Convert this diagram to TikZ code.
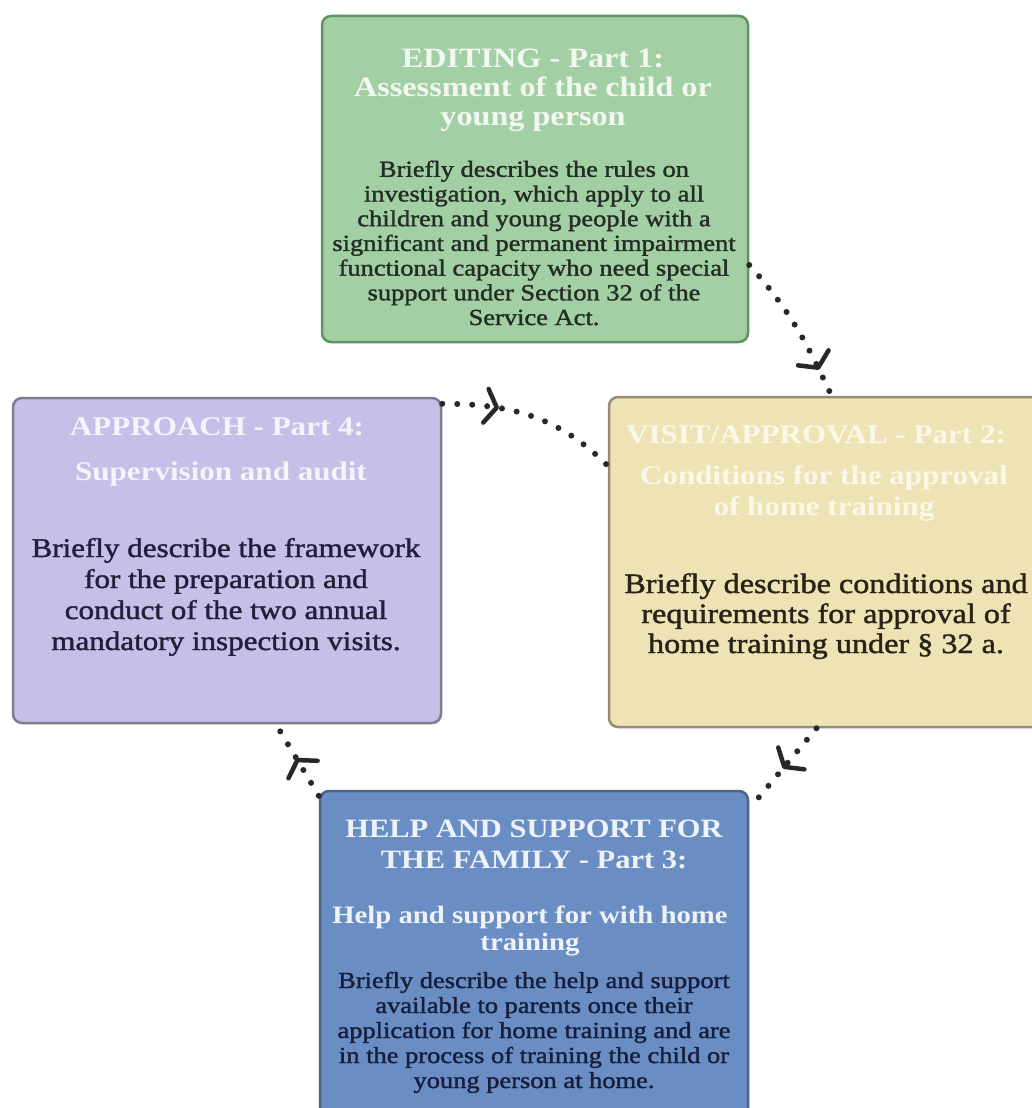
\documentclass[tikz,border=0pt]{standalone}
\usepackage{fontspec}
\setmainfont{Liberation Serif}[FakeStretch=1.15]
\newfontfamily\bodyfont{Liberation Serif}[FakeStretch=1.15, FakeBold=1.5]
\usetikzlibrary{decorations.markings}

\definecolor{grfill}{RGB}{163,207,165}
\definecolor{grline}{RGB}{96,148,100}
\definecolor{grtitle}{RGB}{242,248,240}
\definecolor{grbody}{RGB}{35,45,35}
\definecolor{yefill}{RGB}{238,227,180}
\definecolor{yeline}{RGB}{150,140,118}
\definecolor{yetitle}{RGB}{252,248,232}
\definecolor{yebody}{RGB}{40,35,22}
\definecolor{pufill}{RGB}{200,191,232}
\definecolor{puline}{RGB}{128,124,142}
\definecolor{putitle}{RGB}{246,243,252}
\definecolor{pubody}{RGB}{35,30,58}
\definecolor{blfill}{RGB}{106,142,196}
\definecolor{blline}{RGB}{78,98,135}
\definecolor{bltitle}{RGB}{238,243,250}
\definecolor{blbody}{RGB}{22,30,60}
\definecolor{dotc}{RGB}{40,40,40}

\tikzset{
  panel/.style={draw, line width=2.5pt, rounded corners=9pt, inner sep=0pt},
  ttl/.style 2 args={anchor=base, align=center, inner sep=0pt, font=\fontsize{#1}{#2}\selectfont\bfseries},
  bdy/.style 2 args={anchor=base, align=center, inner sep=0pt, font=\bodyfont\fontsize{#1}{#2}\selectfont},
  link/.style={draw=dotc, line width=6pt, line cap=round, dash pattern=on 0pt off 15pt,
    postaction=decorate,
    decoration={markings, mark=at position #1 with {\draw[solid, line width=4.5pt, line cap=round, line join=round, draw=dotc] (-11,-17) -- (0,0) -- (-11,17);}}}
}

\begin{document}
\begin{tikzpicture}[x=1pt, y=-1pt]
\useasboundingbox (0,0) rectangle (1031,1108);
\fill[white] (0,0) rectangle (1031,1108);

% boxes
\node[panel, fill=grfill, draw=grline, minimum width=426pt, minimum height=326pt] (green) at (535,179) {};
\node[panel, fill=yefill, draw=yeline, minimum width=433pt, minimum height=330pt] (yellow) at (825.5,562) {};
\node[panel, fill=pufill, draw=puline, minimum width=428pt, minimum height=325pt] (purple) at (227,560.5) {};
\node[panel, fill=blfill, draw=blline, minimum width=428pt, minimum height=334pt] (blue) at (534,958) {};

% green texts (anchor = baseline of last line)
\node[ttl={28}{29}, text=grtitle] (gt) at (533,125) {EDITING - Part 1:\\Assessment of the child or\\young person};
\node[bdy={23}{24.7}, text=grbody] (gb) at (534,325) {Briefly describes the rules on\\investigation, which apply to all\\children and young people with a\\significant and permanent impairment\\functional capacity who need special\\support under Section 32 of the\\Service Act.};

% yellow texts
\node[ttl={27}{31}, text=yetitle] (yt) at (816,443) {VISIT/APPROVAL - Part 2:};
\node[ttl={27}{31}, text=yetitle] (ys) at (824,515) {Conditions for the approval\\of home training};
\node[bdy={28}{30}, text=yebody] (yb) at (826,653) {Briefly describe conditions and\\requirements for approval of\\home training under § 32 a.};

% purple texts
\node[ttl={27}{31}, text=putitle] (pt) at (217,435) {APPROACH - Part 4:};
\node[ttl={27}{31}, text=putitle] (ps) at (221,480) {Supervision and audit};
\node[bdy={27}{31}, text=pubody] (pb) at (226,650) {Briefly describe the framework\\for the preparation and\\conduct of the two annual\\mandatory inspection visits.};

% blue texts
\node[ttl={26.5}{31}, text=bltitle] (bt) at (534,868) {HELP AND SUPPORT FOR\\THE FAMILY - Part 3:};
\node[ttl={25}{27}, text=bltitle] (bs) at (530,950) {Help and support for with home\\training};
\node[bdy={23}{25}, text=blbody] (bb) at (534,1088) {Briefly describe the help and support\\available to parents once their\\application for home training and are\\in the process of training the child or\\young person at home.};

% connectors
\draw[link=0.8] ([yshift=-86pt]green.east) to[out=-48, in=115] ([xshift=6pt]yellow.north);
\draw[link=0.48] ([xshift=-9pt]yellow.south) -- ([yshift=-19pt]blue.north east);
\draw[link=0.5] ([yshift=-6pt]blue.north west) -- ([xshift=49pt]purple.south);
\draw[link=0.3] ([yshift=-7pt]purple.north east) to[out=0, in=135] ([yshift=-70pt]yellow.north west);
\end{tikzpicture}
\end{document}
